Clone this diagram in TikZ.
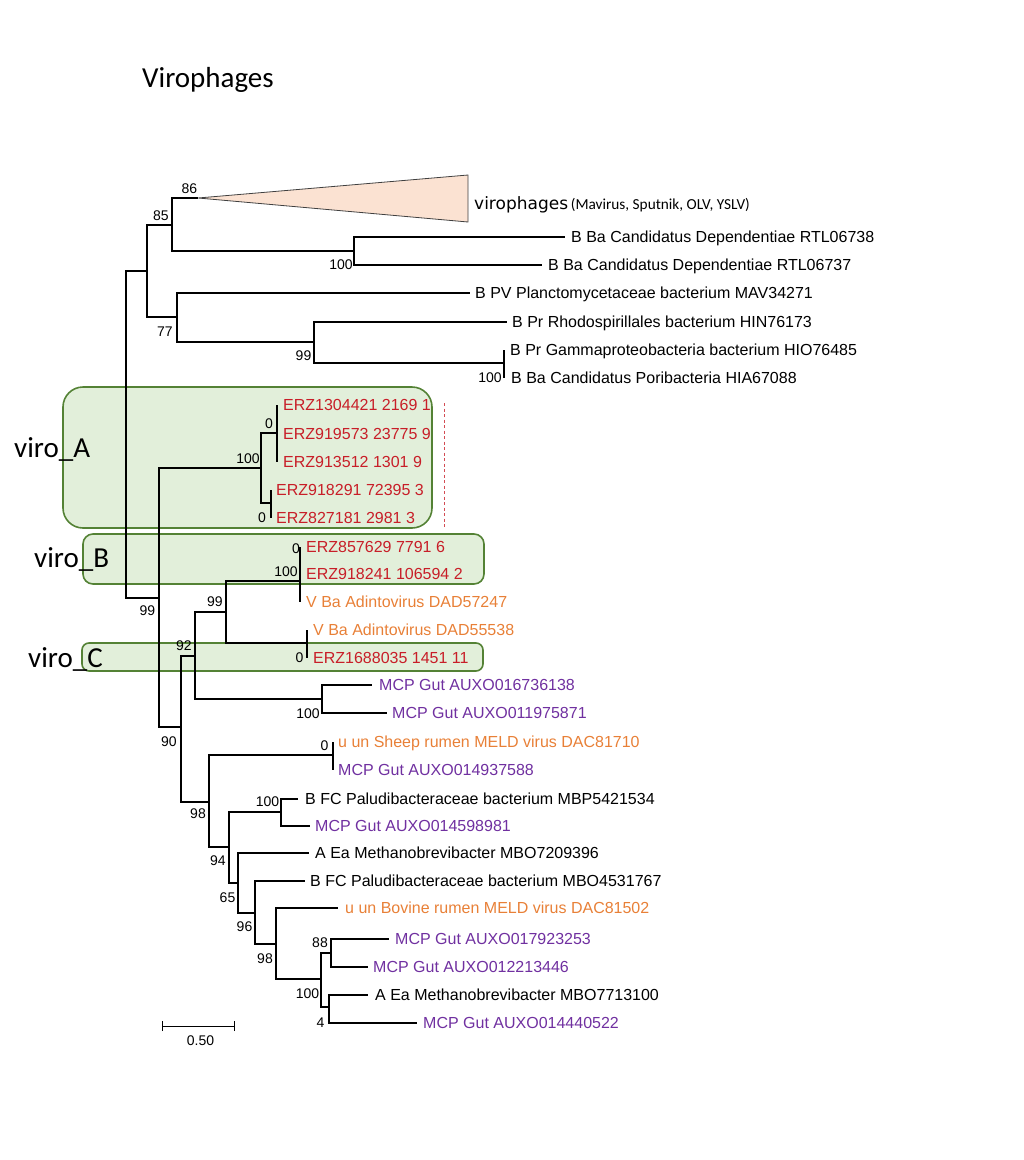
\documentclass[tikz,border=0pt]{standalone}
\usepackage{fontspec}
\setmainfont{Liberation Sans}
\newfontfamily\calib{Carlito}
\newfontfamily\verd{DejaVu Sans}
\usetikzlibrary{positioning}

\definecolor{erzred}{RGB}{200,30,40}
\definecolor{advorange}{RGB}{232,128,55}
\definecolor{gutpurple}{RGB}{112,48,160}
\definecolor{boxfill}{RGB}{226,239,218}
\definecolor{boxline}{RGB}{84,130,53}
\definecolor{clade}{RGB}{251,226,210}

\tikzset{
  br/.style={line width=1.1pt},
  leaf/.style={inner sep=0pt,text height=11.4pt,text depth=0pt,font=\fontsize{16}{18}\selectfont},
  bs/.style={inner sep=0pt,text height=10pt,text depth=0pt,font=\fontsize{14}{16}\selectfont},
  grp/.style={draw=boxline,fill=boxfill,line width=1.6pt},
  grplab/.style={inner sep=0pt,anchor=base west,font=\calib\fontsize{29}{31}\selectfont}
}

\begin{document}
\begin{tikzpicture}[x=1pt,y=-1pt]
 \useasboundingbox (0,0) rectangle (1024,1160);
 \node[inner sep=0pt,anchor=base west,font=\calib\fontsize{29}{31}\selectfont] (title) at (142,87) {Virophages};

 % highlighted groups
 \draw[grp,rounded corners=20pt] (63,387) rectangle (432,528);
 \draw[grp,rounded corners=10pt] (83,534) rectangle (484,584);
 \draw[grp,rounded corners=7pt] (82,643) rectangle (483,671);
 \node[grplab] (labA) at (14,457) {viro\_A};
 \node[grplab] (labB) at (34,567) {viro\_B};
 \node[grplab] (labC) at (28,667) {viro\_C};
 \draw[erzred!80,line width=0.9pt,dash pattern=on 3pt off 2.5pt] (444,403) -- (444,527);

 % upper part
 \coordinate (r) at (126,430);
 \coordinate (n1) at (147,271);
 \coordinate (n85) at (172,225);
 \coordinate (n86) at (198,198);
 \coordinate (tri) at (468,198);
 \coordinate (nD) at (354,251);
 \coordinate (tD1) at (565,237);
 \coordinate (tD2) at (542,265);
 \coordinate (n77) at (177,317);
 \coordinate (tPV) at (470,293);
 \coordinate (n99a) at (314,342);
 \coordinate (tRh) at (507,322);
 \coordinate (nPo) at (504,363);
 \coordinate (tGa) at (504,350);
 \coordinate (tPo) at (504,378);

 % lower part
 \coordinate (nB) at (159,598);
 \coordinate (nA) at (261,468);
 \coordinate (nA1) at (277,433);
 \coordinate (tA1) at (277,405);
 \coordinate (tA2) at (277,434);
 \coordinate (tA3) at (277,462);
 \coordinate (nA2) at (271,503);
 \coordinate (tA4) at (271,490);
 \coordinate (tA5) at (271,518);
 \coordinate (n90) at (181,727);
 \coordinate (n92) at (195,656);
 \coordinate (n99c) at (226,612);
 \coordinate (nBb) at (300,581);
 \coordinate (tB1) at (300,547);
 \coordinate (tB2) at (300,574);
 \coordinate (tB3) at (300,602);
 \coordinate (nC) at (307,643);
 \coordinate (tC1) at (307,630);
 \coordinate (tC2) at (307,658);
 \coordinate (nM) at (322,699);
 \coordinate (tM1) at (372,685);
 \coordinate (tM2) at (387,713);
 \coordinate (n98a) at (209,802);
 \coordinate (nS) at (333,755);
 \coordinate (tS1) at (333,742);
 \coordinate (tS2) at (333,770);
 \coordinate (n94) at (229,847);
 \coordinate (nP) at (281,812);
 \coordinate (tP1) at (298,799);
 \coordinate (tP2) at (310,826);
 \coordinate (n65) at (238,883);
 \coordinate (tMe1) at (309,853);
 \coordinate (n96) at (255,913);
 \coordinate (tPa2) at (305,881);
 \coordinate (n98b) at (276,944);
 \coordinate (tBo) at (338,908);
 \coordinate (n100c) at (321,979);
 \coordinate (n88) at (331,953);
 \coordinate (tG1) at (389,939);
 \coordinate (tG2) at (368,967);
 \coordinate (n4) at (329,1007);
 \coordinate (tMe2) at (368,995);
 \coordinate (tG3) at (417,1023);

 % collapsed clade
 \draw[fill=clade,draw=black!75,line width=0.8pt] (n86) -- (468,175) -- (468,222) -- cycle;

 % branches
 \draw[br] (r) |- (n1) (n1) |- (n85) (n85) |- (n86) (n85) |- (nD)
  (nD) |- (tD1) (nD) |- (tD2) (n1) |- (n77) (n77) |- (tPV) (n77) |- (n99a)
  (n99a) |- (tRh) (n99a) |- (nPo) (nPo) |- (tGa) (nPo) |- (tPo);
 \draw[br] (r) |- (nB) (nB) |- (nA) (nB) |- (n90)
  (nA) |- (nA1) (nA) |- (nA2) (nA1) |- (tA1) (nA1) |- (tA2) (nA1) |- (tA3)
  (nA2) |- (tA4) (nA2) |- (tA5)
  (n90) |- (n92) (n90) |- (n98a) (n92) |- (n99c) (n92) |- (nM)
  (n99c) |- (nBb) (n99c) |- (nC) (nBb) |- (tB1) (nBb) |- (tB2) (nBb) |- (tB3)
  (nC) |- (tC1) (nC) |- (tC2) (nM) |- (tM1) (nM) |- (tM2)
  (n98a) |- (nS) (n98a) |- (n94) (nS) |- (tS1) (nS) |- (tS2)
  (n94) |- (nP) (n94) |- (n65) (nP) |- (tP1) (nP) |- (tP2)
  (n65) |- (tMe1) (n65) |- (n96) (n96) |- (tPa2) (n96) |- (n98b)
  (n98b) |- (tBo) (n98b) |- (n100c) (n100c) |- (n88) (n100c) |- (n4)
  (n88) |- (tG1) (n88) |- (tG2) (n4) |- (tMe2) (n4) |- (tG3);

 % leaf names
 \node[inner sep=0pt,anchor=base west,right=6pt of tri,yshift=-7pt] (lVir) {{\verd\fontsize{17}{19}\selectfont virophages} {\calib\fontsize{15.3}{17}\selectfont(Mavirus, Sputnik, OLV, YSLV)}};
 \node[leaf,right=6pt of tD1] (lD1) {B Ba Candidatus Dependentiae RTL06738};
 \node[leaf,right=6pt of tD2] (lD2) {B Ba Candidatus Dependentiae RTL06737};
 \node[leaf,right=5pt of tPV] (lPV) {B PV Planctomycetaceae bacterium MAV34271};
 \node[leaf,right=5pt of tRh] (lRh) {B Pr Rhodospirillales bacterium HIN76173};
 \node[leaf,right=6pt of tGa] (lGa) {B Pr Gammaproteobacteria bacterium HIO76485};
 \node[leaf,right=7pt of tPo] (lPo) {B Ba Candidatus Poribacteria HIA67088};
 \node[leaf,erzred,right=6pt of tA1] (lA1) {ERZ1304421 2169 1};
 \node[leaf,erzred,right=6pt of tA2] (lA2) {ERZ919573 23775 9};
 \node[leaf,erzred,right=6pt of tA3] (lA3) {ERZ913512 1301 9};
 \node[leaf,erzred,right=5pt of tA4] (lA4) {ERZ918291 72395 3};
 \node[leaf,erzred,right=5pt of tA5] (lA5) {ERZ827181 2981 3};
 \node[leaf,erzred,right=6pt of tB1] (lB1) {ERZ857629 7791 6};
 \node[leaf,erzred,right=6pt of tB2] (lB2) {ERZ918241 106594 2};
 \node[leaf,advorange,right=6pt of tB3] (lB3) {V Ba Adintovirus DAD57247};
 \node[leaf,advorange,right=6pt of tC1] (lC1) {V Ba Adintovirus DAD55538};
 \node[leaf,erzred,right=6pt of tC2] (lC2) {ERZ1688035 1451 11};
 \node[leaf,gutpurple,right=7pt of tM1] (lM1) {MCP Gut AUXO016736138};
 \node[leaf,gutpurple,right=5pt of tM2] (lM2) {MCP Gut AUXO011975871};
 \node[leaf,advorange,right=5pt of tS1] (lS1) {u un Sheep rumen MELD virus DAC81710};
 \node[leaf,gutpurple,right=5pt of tS2] (lS2) {MCP Gut AUXO014937588};
 \node[leaf,right=7pt of tP1] (lP1) {B FC Paludibacteraceae bacterium MBP5421534};
 \node[leaf,gutpurple,right=5pt of tP2] (lP2) {MCP Gut AUXO014598981};
 \node[leaf,right=6pt of tMe1] (lMe1) {A Ea Methanobrevibacter MBO7209396};
 \node[leaf,right=5pt of tPa2] (lPa2) {B FC Paludibacteraceae bacterium MBO4531767};
 \node[leaf,advorange,right=7pt of tBo] (lBo) {u un Bovine rumen MELD virus DAC81502};
 \node[leaf,gutpurple,right=6pt of tG1] (lG1) {MCP Gut AUXO017923253};
 \node[leaf,gutpurple,right=5pt of tG2] (lG2) {MCP Gut AUXO012213446};
 \node[leaf,right=7pt of tMe2] (lMe2) {A Ea Methanobrevibacter MBO7713100};
 \node[leaf,gutpurple,right=6pt of tG3] (lG3) {MCP Gut AUXO014440522};

 % bootstrap values
 \node[bs] (b86) at (189.5,188) {86};
 \node[bs] (b85) at (161,215) {85};
 \node[bs] (bD) at (341,264) {100};
 \node[bs] (b77) at (165,331) {77};
 \node[bs] (b99a) at (303.5,355) {99};
 \node[bs] (bPo) at (490,377) {100};
 \node[bs] (bA1) at (269,423) {0};
 \node[bs] (bA) at (248,458) {100};
 \node[bs] (bA2) at (262,517) {0};
 \node[bs] (bB) at (147.5,610) {99};
 \node[bs] (bB0) at (296,548) {0};
 \node[bs] (bBb) at (286,571) {100};
 \node[bs] (b99c) at (215,601) {99};
 \node[bs] (b92) at (184,645) {92};
 \node[bs] (bC) at (299.5,657) {0};
 \node[bs] (bM) at (308,713) {100};
 \node[bs] (b90) at (169,741) {90};
 \node[bs] (bS) at (324.5,745) {0};
 \node[bs] (bP) at (267.5,801.5) {100};
 \node[bs] (b98a) at (198,813.5) {98};
 \node[bs] (b94) at (218,860) {94};
 \node[bs] (b65) at (227.5,897) {65};
 \node[bs] (b96) at (244.5,926) {96};
 \node[bs] (b98b) at (265,958) {98};
 \node[bs] (b88) at (320,942) {88};
 \node[bs] (b100c) at (307.5,993) {100};
 \node[bs] (b4) at (320.5,1022) {4};

 % scale bar
 \coordinate (sb1) at (162,1026);
 \coordinate (sb2) at (234,1026);
 \draw[line width=1pt] (sb1) -- (sb2) ([yshift=-5pt]sb1) -- ([yshift=5pt]sb1) ([yshift=-5pt]sb2) -- ([yshift=5pt]sb2);
 \node[bs] (sblab) at (200.5,1040) {0.50};
\end{tikzpicture}
\end{document}
